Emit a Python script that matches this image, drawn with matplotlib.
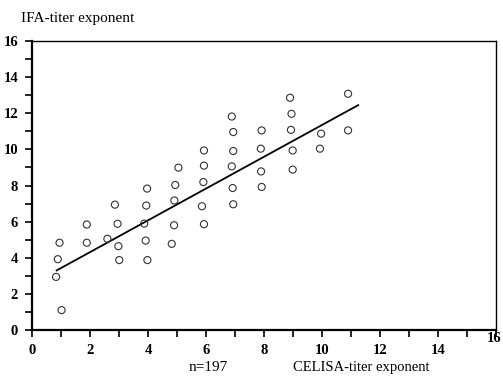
import numpy as np
import matplotlib
matplotlib.use("Agg")
import matplotlib.pyplot as plt
from matplotlib.ticker import MultipleLocator
from matplotlib.transforms import ScaledTranslation

# CELISA vs IFA titer exponents
celisa = [0.83, 1.02, 0.89, 0.95, 1.89, 1.89, 2.60, 2.86, 2.95, 2.98, 3.01,
          3.97, 3.94, 3.87, 3.92, 3.98, 5.05, 4.94, 4.91, 4.90, 4.82,
          5.93, 5.93, 5.91, 5.86, 5.93, 6.89, 6.94, 6.94, 6.89, 6.92, 6.94,
          7.92, 7.89, 7.90, 7.92, 8.90, 8.95, 8.93, 8.99, 8.99,
          9.97, 9.93, 10.90, 10.90]
ifa = [2.94, 1.10, 3.92, 4.83, 5.84, 4.83, 5.05, 6.94, 5.88, 4.64, 3.87,
       7.83, 6.89, 5.89, 4.95, 3.87, 8.99, 8.03, 7.17, 5.80, 4.77,
       9.94, 9.10, 8.19, 6.85, 5.86, 11.82, 10.96, 9.91, 9.06, 7.86, 6.96,
       11.05, 10.04, 8.78, 7.92, 12.86, 11.97, 11.08, 9.94, 8.88,
       10.87, 10.04, 13.08, 11.05]

# regression line
slope = 0.88
intercept = 2.55
fit_range = [0.85, 11.25]

plt.rcParams['font.family'] = ['Liberation Serif', 'DejaVu Serif']

fig = plt.figure(figsize=(5.03, 3.77), dpi=100)
ax = fig.add_axes([0.0636, 0.1247, 0.9224, 0.7665])

ax.scatter(celisa, ifa, s=26, facecolors='none', edgecolors='#333333',
           linewidths=0.8, zorder=3)
fx = np.array(fit_range)
ax.plot(fx, intercept + slope * fx, color='black', lw=1.3, zorder=2)

ax.set_xlim(0, 16)
ax.set_ylim(0, 16)
ax.xaxis.set_minor_locator(MultipleLocator(1))
ax.yaxis.set_major_locator(MultipleLocator(2))
ax.yaxis.set_minor_locator(MultipleLocator(1))
ax.set_xticks(range(0, 16, 2))
ax.tick_params(which='both', direction='out', length=5, width=1.2,
               labelsize=10.5, pad=5)
for lab in ax.get_xticklabels() + ax.get_yticklabels():
    lab.set_fontweight('bold')

# the last x label sits higher than the others in the scan
shift = ScaledTranslation(-1.5 / 72, -1.5 / 72, fig.dpi_scale_trans)
ax.text(16, 0, '16', transform=ax.get_xaxis_transform() + shift,
        ha='center', va='top', fontsize=10.5, fontweight='bold')

ax.spines['left'].set_linewidth(1.6)
ax.spines['bottom'].set_linewidth(1.6)
ax.spines['top'].set_linewidth(1.0)
ax.spines['right'].set_linewidth(1.0)

fig.text(0.042, 0.95, 'IFA-titer exponent', fontsize=11, ha='left', va='center')
fig.text(0.374, 0.024, 'n=197', fontsize=11, ha='left', va='center')
fig.text(0.583, 0.024, 'CELISA-titer exponent', fontsize=10.5, ha='left', va='center')

fig.savefig('out.png', dpi=100)
